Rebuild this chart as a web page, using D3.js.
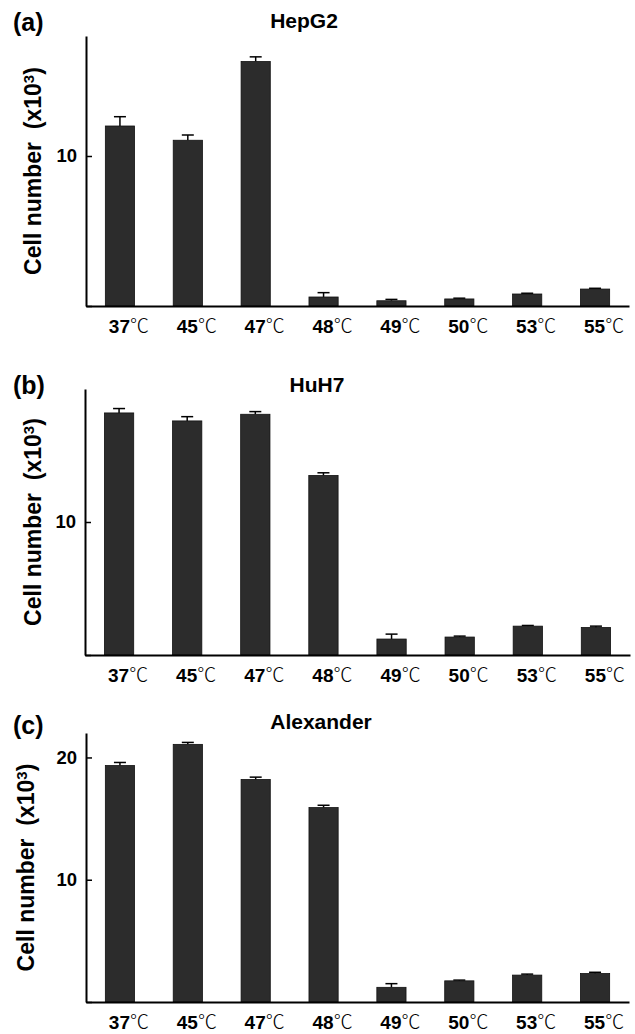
<!DOCTYPE html>
<html>
<head>
<meta charset="utf-8">
<script src="https://cdn.jsdelivr.net/npm/d3@7"></script>
<style>
  body { margin: 0; background: #fff; }
  text { font-family: "Liberation Sans", Arial, sans-serif; font-weight: bold; fill: #000; }
</style>
</head>
<body>
<svg id="chart" width="635" height="1034"></svg>
<script>
// temperatures (x categories)
var temps = ["37", "45", "47", "48", "49", "50", "53", "55"];

// cell number x10^3
var hepg2    = [12.0, 11.05, 16.3, 0.6, 0.35, 0.47, 0.8, 1.13];
var hepg2Err = [0.62, 0.35, 0.31, 0.29, 0.09, 0.05, 0.05, 0.05];
var huh7     = [18.2, 17.6, 18.1, 13.5, 1.2, 1.35, 2.17, 2.07];
var huh7Err  = [0.33, 0.32, 0.2, 0.2, 0.37, 0.07, 0.05, 0.1];
var alex     = [19.34, 21.07, 18.2, 15.9, 1.2, 1.73, 2.2, 2.33];
var alexErr  = [0.25, 0.16, 0.19, 0.19, 0.3, 0.06, 0.08, 0.1];

var yTicksA = [0, 10];
var yTicksB = [0, 10];
var yTicksC = [0, 10, 20];

var svg = d3.select("#chart");

var panels = [
    {letter: "(a)", title: "HepG2", vals: hepg2, errs: hepg2Err, ymax: 18, ticks: yTicksA,
     top: 36, base: 306, left: 86, right: 629, titleX: 304, titleY: 28, letterY: 31, ylabX: 41},
    {letter: "(b)", title: "HuH7", vals: huh7, errs: huh7Err, ymax: 20, ticks: yTicksB,
     top: 389, base: 655, left: 85, right: 630, titleX: 317, titleY: 392, letterY: 394, ylabX: 41},
    {letter: "(c)", title: "Alexander", vals: alex, errs: alexErr, ymax: 22, ticks: yTicksC,
     top: 733, base: 1002, left: 86, right: 629, titleX: 321, titleY: 729, letterY: 734, ylabX: 34}
];

panels.forEach(function(p) {
    var g = svg.append("g");

    var x = d3.scaleBand()
        .domain(temps)
        .range([p.left, p.right])
        .paddingInner(0.57)
        .paddingOuter(0.285);

    var y = d3.scaleLinear()
        .domain([0, p.ymax])
        .range([p.base, p.top]);

    var data = temps.map(function(t, i) { return {t: t, v: p.vals[i], e: p.errs[i]}; });

    // error bars (upper only)
    var eb = g.append("g").attr("stroke", "#000").attr("stroke-width", 1.5);
    eb.selectAll("line.v")
        .data(data)
        .enter().append("line")
        .attr("x1", d => x(d.t) + x.bandwidth() / 2)
        .attr("x2", d => x(d.t) + x.bandwidth() / 2)
        .attr("y1", d => y(d.v))
        .attr("y2", d => y(d.v + d.e));
    eb.selectAll("line.cap")
        .data(data)
        .enter().append("line")
        .attr("x1", d => x(d.t) + x.bandwidth() / 2 - 6)
        .attr("x2", d => x(d.t) + x.bandwidth() / 2 + 6)
        .attr("y1", d => y(d.v + d.e))
        .attr("y2", d => y(d.v + d.e));

    // bars
    g.append("g")
        .selectAll("rect")
        .data(data)
        .enter().append("rect")
        .attr("x", d => x(d.t))
        .attr("y", d => y(d.v))
        .attr("width", x.bandwidth())
        .attr("height", d => y(0) - y(d.v))
        .attr("fill", "#2c2c2c")
        .attr("stroke", "#111")
        .attr("stroke-width", 0.8);

    // y axis, inward ticks
    var yAxis = g.append("g")
        .attr("transform", "translate(" + p.left + ",0)")
        .call(d3.axisLeft(y)
            .tickValues(p.ticks)
            .tickSizeInner(-6)
            .tickSizeOuter(0)
            .tickPadding(9)
            .tickFormat(d => d === 0 ? "" : d));
    yAxis.select(".domain").attr("stroke-width", 2);
    yAxis.selectAll(".tick line").attr("stroke-width", 1.5);
    yAxis.selectAll(".tick text")
        .style("font-size", "18.5px")
        .style("font-family", "'Liberation Sans', Arial, sans-serif")
        .style("font-weight", "bold")
        .attr("fill", "#000");

    // x axis baseline
    var xAxis = g.append("g")
        .attr("transform", "translate(0," + p.base + ")")
        .call(d3.axisBottom(x).tickSize(0).tickFormat(""));
    xAxis.select(".domain").attr("stroke-width", 2);

    // x labels
    var lab = g.append("g").selectAll("text")
        .data(temps)
        .enter().append("text")
        .attr("x", d => x(d) + x.bandwidth() / 2 + 9)
        .attr("y", p.base + 27)
        .attr("text-anchor", "middle")
        .style("font-size", "19px");
    lab.append("tspan").text(d => d);
    lab.append("tspan")
        .style("font-family", "'Noto Sans CJK JP', 'DejaVu Sans', sans-serif")
        .style("font-weight", "300")
        .text("\u2103");

    // y axis title
    var yl = g.append("text")
        .attr("transform", "translate(" + p.ylabX + "," + ((p.top + p.base) / 2) + ") rotate(-90)")
        .attr("text-anchor", "middle")
        .style("font-size", "23px")
        .style("white-space", "pre");
    yl.append("tspan").text("Cell number  (x10");
    yl.append("tspan").attr("dy", "-0.45em").style("font-size", "15px").text("3");
    yl.append("tspan").attr("dy", "0.3em").text(")");

    // panel title
    g.append("text")
        .attr("x", p.titleX)
        .attr("y", p.titleY)
        .attr("text-anchor", "middle")
        .style("font-size", "21px")
        .text(p.title);

    // panel letter
    g.append("text")
        .attr("x", 13)
        .attr("y", p.letterY)
        .style("font-size", "25px")
        .text(p.letter);
});
</script>
</body>
</html>
